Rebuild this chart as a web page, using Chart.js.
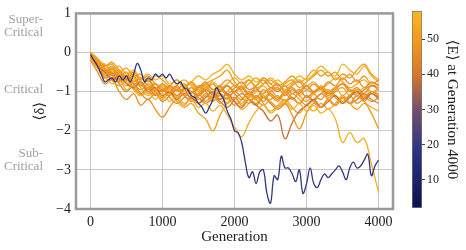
<!DOCTYPE html>
<html>
<head>
<meta charset="utf-8">
<script src="https://cdn.jsdelivr.net/npm/chart.js@4.4.4/dist/chart.umd.min.js"></script>
<style>
  html, body { margin: 0; padding: 0; background: #fff; }
  #wrap { position: relative; width: 466px; height: 250px; }
  #main { position: absolute; left: 0; top: 0; }
  #cbar { position: absolute; left: 400px; top: 0; }
</style>
</head>
<body>
<div id="wrap">
  <canvas id="main" width="466" height="250"></canvas>
  <canvas id="cbar" width="66" height="250"></canvas>
</div>
<script>
// generations sampled for the runs
const gens100 = [0,100,200,300,400,500,600,700,800,900,1000,1100,1200,1300,1400,1500,1600,1700,1800,1900,2000,
  2100,2200,2300,2400,2500,2600,2700,2800,2900,3000,3100,3200,3300,3400,3500,3600,3700,3800,3900,4000];
const gens50 = [0,50,100,150,200,250,300,350,400,450,500,550,600,650,700,750,800,850,900,950,1000,
  1050,1100,1150,1200,1250,1300,1350,1400,1450,1500,1550,1600,1650,1700,1750,1800,1850,1900,1950,2000,
  2050,2100,2150,2200,2250,2300,2350,2400,2450,2500,2550,2600,2650,2700,2750,2800,2850,2900,2950,3000,
  3050,3100,3150,3200,3250,3300,3350,3400,3450,3500,3550,3600,3650,3700,3750,3800,3850,3900,3950,4000];

// <delta> per run (every 100 generations)
const run01 = [-0.05,-0.2,-0.35,-0.3,-0.5,-0.4,-0.6,-0.55,-0.75,-0.6,-0.7,-0.85,-0.7,-0.9,-0.75,-0.95,-0.8,-0.7,-0.6,-0.45,-0.75,-0.9,-0.7,-0.85,-0.65,-0.8,-0.95,-0.8,-0.7,-0.9,-0.75,-0.6,-0.45,-0.6,-0.5,-0.7,-0.55,-0.75,-0.6,-0.8,-0.7];
const run02 = [-0.1,-0.3,-0.55,-0.4,-0.7,-0.6,-0.8,-0.75,-0.95,-0.8,-1.0,-0.9,-1.1,-0.95,-1.05,-0.85,-1.0,-1.15,-0.95,-1.1,-1.0,-0.85,-1.05,-0.9,-1.15,-1.0,-0.9,-1.1,-0.95,-1.05,-0.85,-1.0,-0.9,-1.1,-0.95,-0.8,-1.0,-0.9,-1.05,-0.85,-0.95];
const run03 = [-0.15,-0.4,-0.6,-0.8,-0.7,-0.95,-0.85,-1.1,-1.0,-1.2,-1.05,-1.25,-1.1,-1.3,-1.2,-1.4,-1.3,-1.5,-1.35,-1.6,-1.9,-2.15,-1.8,-1.5,-1.35,-1.55,-1.4,-1.25,-1.45,-1.3,-1.5,-1.35,-1.55,-1.45,-1.7,-2.3,-2.05,-2.3,-2.2,-2.85,-3.58];
const run04 = [-0.05,-0.25,-0.45,-0.35,-0.6,-0.5,-0.75,-0.65,-0.85,-0.95,-0.8,-1.0,-0.9,-1.1,-1.0,-1.2,-1.05,-1.25,-1.1,-1.3,-1.15,-1.35,-1.2,-1.3,-1.1,-1.25,-1.4,-1.3,-1.6,-1.95,-1.55,-1.3,-1.4,-1.2,-1.35,-1.15,-1.3,-1.1,-1.25,-1.55,-1.95];
const run05 = [-0.1,-0.35,-0.5,-0.7,-0.6,-0.8,-0.9,-0.75,-1.0,-0.9,-1.1,-1.0,-1.2,-1.05,-1.15,-1.3,-1.15,-1.0,-1.2,-1.05,-1.25,-1.4,-1.2,-1.35,-1.5,-1.75,-1.6,-2.2,-1.8,-1.5,-1.35,-1.2,-1.4,-1.25,-1.1,-1.3,-1.15,-1.0,-1.2,-1.05,-1.15];
const run06 = [-0.1,-0.3,-0.5,-0.65,-0.55,-0.75,-0.9,-0.8,-1.05,-0.95,-1.15,-1.05,-1.25,-1.4,-1.3,-1.55,-1.7,-2.0,-1.6,-1.3,-1.15,-1.3,-1.1,-1.2,-1.05,-0.95,-1.15,-1.0,-0.9,-1.1,-0.95,-1.05,-0.85,-1.0,-0.9,-1.1,-0.95,-1.05,-0.9,-1.0,-0.95];
const run07 = [-0.2,-0.5,-0.8,-0.7,-1.0,-1.2,-1.05,-1.35,-1.2,-1.45,-1.65,-1.4,-1.2,-1.35,-1.15,-1.3,-1.1,-1.25,-1.05,-1.2,-1.0,-1.15,-1.3,-1.1,-1.25,-1.05,-1.2,-1.0,-1.15,-1.3,-1.1,-1.25,-1.05,-1.2,-1.35,-1.15,-1.3,-1.1,-1.25,-1.05,-1.2];
const run08 = [-0.05,-0.2,-0.3,-0.45,-0.35,-0.55,-0.45,-0.65,-0.55,-0.7,-0.6,-0.8,-0.7,-0.85,-0.75,-0.6,-0.7,-0.55,-0.45,-0.3,-0.55,-0.7,-0.6,-0.75,-0.65,-0.8,-0.7,-0.85,-0.75,-0.6,-0.7,-0.55,-0.35,-0.5,-0.6,-0.3,-0.45,-0.55,-0.35,-0.6,-0.75];
const run09 = [-0.1,-0.25,-0.4,-0.6,-0.5,-0.7,-0.6,-0.85,-0.7,-0.9,-1.0,-0.85,-0.95,-0.8,-1.0,-0.9,-0.75,-0.95,-0.85,-1.05,-0.9,-0.75,-0.95,-0.85,-0.7,-0.9,-0.8,-1.0,-0.85,-0.75,-0.95,-0.8,-0.95,-0.75,-0.85,-0.65,-0.8,-0.7,-0.9,-0.75,-0.85];
const run10 = [0.0,-0.15,-0.35,-0.25,-0.45,-0.6,-0.5,-0.7,-0.6,-0.8,-0.9,-1.05,-0.95,-1.1,-1.2,-1.05,-1.25,-1.1,-1.3,-1.15,-1.35,-1.2,-1.05,-1.2,-1.35,-1.2,-1.1,-1.25,-1.05,-1.2,-1.35,-1.2,-1.05,-0.95,-1.1,-1.25,-1.1,-1.3,-1.15,-1.0,-1.1];
const run11 = [-0.1,-0.3,-0.45,-0.7,-0.85,-0.7,-0.95,-1.1,-0.9,-1.05,-1.2,-1.0,-1.15,-0.95,-0.8,-1.0,-0.85,-1.05,-0.9,-1.1,-1.25,-1.45,-1.3,-1.1,-1.3,-1.5,-1.35,-1.2,-1.4,-1.55,-1.35,-1.5,-1.3,-1.45,-1.3,-1.1,-1.3,-1.45,-1.3,-1.4,-1.5];
const run12 = [-0.1,-0.35,-0.6,-0.5,-0.75,-0.65,-0.9,-1.05,-0.9,-1.1,-0.95,-1.15,-1.3,-1.15,-1.0,-1.15,-1.3,-1.15,-1.0,-0.85,-1.0,-0.9,-1.1,-0.95,-1.05,-0.9,-1.0,-0.85,-1.05,-0.95,-1.15,-1.0,-0.9,-1.05,-0.9,-0.8,-0.95,-1.1,-0.95,-0.85,-0.9];
const run13 = [-0.05,-0.2,-0.4,-0.55,-0.45,-0.65,-0.55,-0.75,-0.9,-0.8,-0.95,-0.85,-1.0,-0.9,-0.75,-0.9,-0.8,-0.95,-0.85,-0.7,-0.85,-0.95,-0.8,-0.65,-0.8,-0.7,-0.85,-0.75,-0.6,-0.75,-0.65,-0.45,-0.6,-0.5,-0.7,-0.55,-0.65,-0.45,-0.3,-0.55,-0.7];
const run14 = [-0.15,-0.4,-0.65,-0.55,-0.8,-1.0,-0.85,-1.05,-1.2,-1.05,-1.25,-1.1,-0.95,-1.1,-1.25,-1.1,-0.95,-1.1,-1.25,-1.4,-1.2,-1.05,-1.2,-1.35,-1.15,-1.3,-1.45,-1.3,-1.15,-1.3,-1.1,-1.25,-1.4,-1.2,-1.35,-1.15,-1.3,-1.2,-1.05,-1.2,-1.3];
const run15 = [-0.05,-0.3,-0.5,-0.45,-0.65,-0.85,-0.7,-0.9,-1.1,-0.95,-0.8,-0.95,-1.1,-0.95,-1.2,-1.05,-0.9,-1.05,-1.2,-1.0,-0.85,-1.0,-1.15,-1.0,-0.85,-1.05,-1.2,-1.05,-0.9,-1.1,-1.25,-1.05,-0.95,-1.15,-1.0,-0.9,-1.1,-0.95,-1.15,-1.0,-1.05];
const run16 = [-0.1,-0.35,-0.3,-0.55,-0.75,-0.6,-0.8,-0.95,-0.8,-1.0,-1.15,-1.0,-0.85,-1.05,-0.9,-1.1,-0.95,-0.8,-1.0,-0.85,-1.05,-1.2,-1.0,-1.15,-0.95,-1.1,-1.25,-1.05,-1.2,-1.0,-0.85,-1.05,-1.2,-1.0,-1.15,-1.3,-1.1,-0.95,-1.1,-1.25,-1.15];
const run17 = [0.0,-0.25,-0.45,-0.4,-0.55,-0.7,-0.65,-0.85,-0.7,-0.95,-0.85,-1.0,-0.85,-0.7,-0.85,-1.0,-0.9,-0.75,-0.9,-0.8,-0.65,-0.8,-0.7,-0.9,-0.8,-0.65,-0.8,-0.95,-0.8,-0.7,-0.85,-0.75,-0.9,-0.8,-0.65,-0.75,-0.9,-0.8,-0.7,-0.85,-0.8];
const runs = [run01, run02, run03, run04, run05, run06, run07, run08, run09, run10, run11, run12, run13, run14, run15, run16, run17];
const runEnergy = [50, 46, 55, 49, 38, 51, 47, 56, 45, 48, 53, 44, 50, 42, 52, 47, 55];

// the one run that went sub-critical (every 50 generations)
const runLow = [-0.05,-0.2,-0.35,-0.55,-0.75,-0.7,-0.65,-0.75,-0.6,-0.7,-0.6,-0.75,-0.55,-0.28,-0.45,-0.75,-0.65,-0.7,-0.55,-0.62,-0.55,
  -0.65,-0.55,-0.7,-0.8,-0.75,-0.9,-0.95,-1.1,-1.15,-1.3,-1.4,-1.55,-1.4,-1.2,-0.9,-1.05,-1.2,-1.5,-1.7,-2.0,
  -2.05,-2.3,-2.8,-3.2,-3.05,-3.35,-3.05,-3.0,-3.6,-3.85,-3.15,-3.25,-2.65,-2.95,-2.95,-3.1,-3.3,-3.0,-3.6,-3.35,
  -2.95,-3.35,-3.45,-3.25,-3.1,-3.2,-3.1,-3.0,-2.9,-3.05,-3.25,-2.95,-2.8,-2.95,-2.9,-2.75,-2.6,-3.15,-2.9,-2.75];
const runLowEnergy = 20;

const xTicks = [0, 1000, 2000, 3000, 4000];
const cbTicks = [10, 20, 30, 40, 50];
const eMin = 2, eMax = 58;

const serif = "'Liberation Serif', 'DejaVu Serif', serif";

// navy -> orange -> yellow
const cmapStops = [
  [0.0, [11, 17, 80]],
  [0.3, [44, 53, 132]],
  [0.5, [117, 80, 106]],
  [0.68, [216, 119, 42]],
  [0.85, [240, 154, 28]],
  [1.0, [251, 183, 36]]
];
function cmap(t) {
  t = Math.max(0, Math.min(1, t));
  for (let i = 1; i < cmapStops.length; i++) {
    const [t1, c1] = cmapStops[i];
    const [t0, c0] = cmapStops[i - 1];
    if (t <= t1) {
      const f = (t - t0) / (t1 - t0);
      const c = c0.map((v, k) => Math.round(v + (c1[k] - v) * f));
      return `rgb(${c[0]},${c[1]},${c[2]})`;
    }
  }
}
const colorFor = e => cmap((e - eMin) / (eMax - eMin));

const datasets = [];
datasets.push({
  data: runLow.map((y, i) => ({x: gens50[i], y})),
  borderColor: colorFor(runLowEnergy)
});
runs.forEach((r, k) => {
  datasets.push({
    data: r.map((y, i) => ({x: gens100[i], y})),
    borderColor: colorFor(runEnergy[k])
  });
});
datasets.forEach(d => {
  d.borderWidth = 1.3;
  d.pointRadius = 0;
  d.tension = 0.4;
  d.fill = false;
});

// frame + regime labels on the left
const framePlugin = {
  id: 'frame',
  afterDraw(chart) {
    const {ctx, chartArea: a, scales: {y}} = chart;
    ctx.save();
    ctx.strokeStyle = '#9a9a9a';
    ctx.lineWidth = 2.5;
    ctx.strokeRect(a.left, a.top, a.right - a.left, a.bottom - a.top);
    ctx.fillStyle = '#a0a0a0';
    ctx.font = '13px ' + serif;
    ctx.textAlign = 'right';
    ctx.textBaseline = 'middle';
    let p = y.getPixelForValue(0.67);
    ctx.fillText('Super-', 43, p - 6.5);
    ctx.fillText('Critical', 43, p + 6.5);
    ctx.fillText('Critical', 43, y.getPixelForValue(-0.95));
    p = y.getPixelForValue(-2.75);
    ctx.fillText('Sub-', 43, p - 6.5);
    ctx.fillText('Critical', 43, p + 6.5);
    ctx.restore();
  }
};

new Chart(document.getElementById('main'), {
  type: 'line',
  data: {datasets},
  options: {
    responsive: false,
    animation: false,
    layout: {padding: {left: 0, top: 11, right: 73, bottom: 0}},
    plugins: {legend: {display: false}, tooltip: {enabled: false}},
    scales: {
      x: {
        type: 'linear',
        min: -200,
        max: 4200,
        afterBuildTicks: s => { s.ticks = xTicks.map(v => ({value: v})); },
        afterFit: s => { s.height = 41; },
        grid: {color: '#c8c8c8', lineWidth: 1, drawTicks: false},
        border: {display: false},
        ticks: {color: '#222', font: {family: serif, size: 14}, padding: 5, maxRotation: 0,
          callback: v => String(v)},
        title: {display: true, text: 'Generation', color: '#222', font: {family: serif, size: 15}, padding: {top: 0, bottom: 4}}
      },
      y: {
        min: -4,
        max: 1,
        afterFit: s => { s.width = 76; },
        grid: {color: '#c8c8c8', lineWidth: 1, drawTicks: false},
        border: {display: false},
        ticks: {stepSize: 1, color: '#222', font: {family: serif, size: 14}, padding: 5,
          callback: v => String(v).replace('-', '\u2212')},
        title: {display: true, text: '\u27E8\u03B4\u27E9', color: '#222', font: {family: serif, size: 15}, padding: {top: 31, bottom: 0}}
      }
    }
  },
  plugins: [framePlugin]
});

// colour bar
function barGradient(chart) {
  const y = chart.scales.y;
  if (!chart.chartArea || !y) return '#f09a1c';
  const g = chart.ctx.createLinearGradient(0, y.getPixelForValue(eMin), 0, y.getPixelForValue(eMax));
  cmapStops.forEach(([t, c]) => g.addColorStop(t, `rgb(${c[0]},${c[1]},${c[2]})`));
  return g;
}

new Chart(document.getElementById('cbar'), {
  type: 'bar',
  data: {
    labels: [''],
    datasets: [{
      data: [[eMin, eMax]],
      backgroundColor: ctx => barGradient(ctx.chart),
      borderColor: '#777',
      borderWidth: 1,
      borderSkipped: false,
      barPercentage: 1,
      categoryPercentage: 1
    }]
  },
  options: {
    responsive: false,
    animation: false,
    layout: {padding: {left: 12, top: 11, right: 0, bottom: 42}},
    plugins: {legend: {display: false}, tooltip: {enabled: false}},
    scales: {
      x: {display: false},
      y: {
        position: 'right',
        min: eMin,
        max: eMax,
        afterBuildTicks: s => { s.ticks = cbTicks.map(v => ({value: v})); },
        afterFit: s => { s.width = 44; },
        grid: {drawOnChartArea: false, drawTicks: true, tickLength: 3, color: '#444'},
        border: {display: false},
        ticks: {color: '#222', font: {family: serif, size: 12}, padding: 2},
        title: {display: true, text: '\u27E8E\u27E9 at Generation 4000', color: '#222', font: {family: serif, size: 15}, padding: {top: 5, bottom: 0}}
      }
    }
  }
});
</script>
</body>
</html>
